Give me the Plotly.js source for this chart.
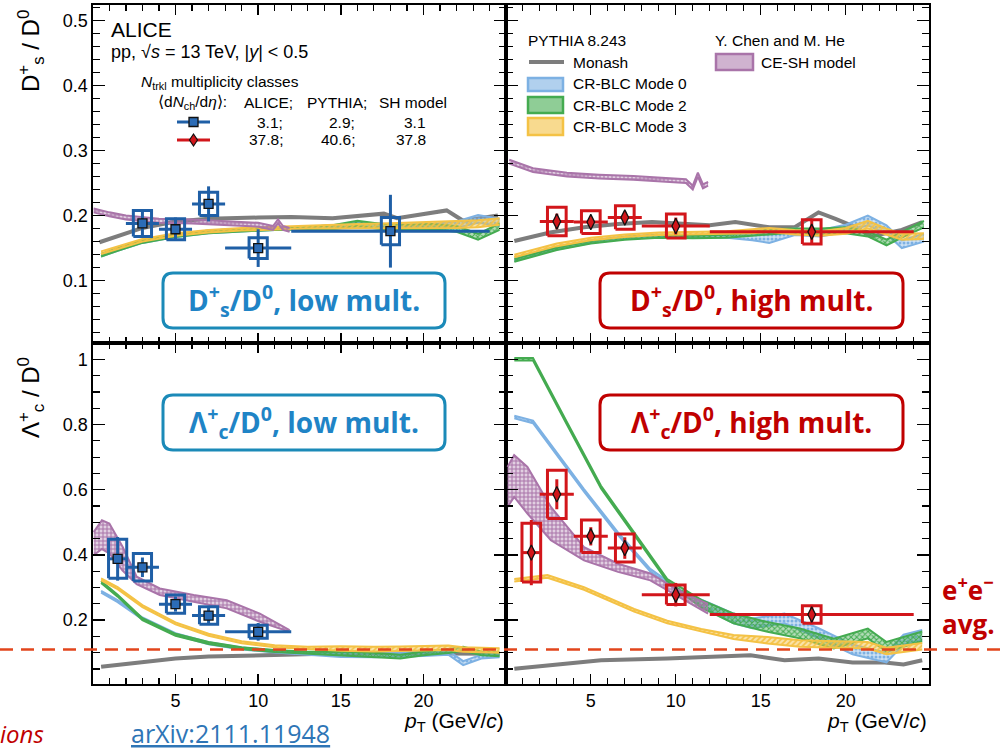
<!DOCTYPE html>
<html><head><meta charset="utf-8">
<script src="https://cdn.plot.ly/plotly-3.0.1.min.js"></script>
<style>html,body{margin:0;padding:0;background:#fff}#chart{width:1000px;height:752px}</style>
</head><body><div id="chart"></div>
<script>
// ---------------- DATA ----------------
// Ds/D0 low multiplicity (ALICE)
const dsLowX = [3, 5, 7, 10, 18];
const dsLowXerr = [1, 1, 1, 2, 6];
const dsLowY = [0.188, 0.179, 0.218, 0.150, 0.176];
const dsLowStat = [0.020, 0.018, 0.027, 0.029, 0.056];
const dsLowSys = [0.020, 0.016, 0.018, 0.016, 0.021];
// Ds/D0 high multiplicity
const dsHighX = [3, 5, 7, 10, 18];
const dsHighXerr = [1, 1, 1, 2, 6];
const dsHighY = [0.191, 0.190, 0.197, 0.184, 0.175];
const dsHighStat = [0.012, 0.008, 0.009, 0.013, 0.018];
const dsHighSys = [0.022, 0.0175, 0.018, 0.0185, 0.0185];
// Lc/D0 low multiplicity
const lcLowX = [1.5, 3, 5, 7, 10];
const lcLowXerr = [0.5, 1, 1, 1, 2];
const lcLowY = [0.388, 0.362, 0.249, 0.214, 0.164];
const lcLowStat = [0.067, 0.030, 0.023, 0.028, 0.027];
const lcLowSys = [0.060, 0.042, 0.028, 0.027, 0.020];
// Lc/D0 high multiplicity
const lcHighX = [1.5, 3, 5, 7, 10, 18];
const lcHighXerr = [0.5, 1, 1, 1, 2, 6];
const lcHighY = [0.407, 0.586, 0.457, 0.421, 0.278, 0.217];
const lcHighStat = [0.100, 0.046, 0.028, 0.033, 0.036, 0.030];
const lcHighSys = [0.090, 0.074, 0.050, 0.043, 0.030, 0.027];

// e+e- average Lc/D0
const eeAvg = 0.11;

// ---- Models, Ds/D0 low mult ----
const tlMonashX = [0.4,1.5,3,5,7,10,12,14.5,16.2,17.6,18.4,19.3,21.4,22.4,24.5];
const tlMonashY = [0.159,0.168,0.181,0.191,0.195,0.197,0.198,0.196,0.200,0.203,0.196,0.200,0.208,0.192,0.200];
const tlCrX = [0.5,1.5,3,5,7,9,11,13,14.5,16,17.5,19,20.5,22,23.3,24.6];
const tlMode0Lo = [0.137,0.146,0.158,0.167,0.173,0.176,0.178,0.179,0.179,0.181,0.179,0.178,0.178,0.181,0.189,0.184];
const tlMode0Hi = [0.141,0.150,0.162,0.171,0.177,0.180,0.182,0.183,0.185,0.189,0.187,0.186,0.187,0.191,0.201,0.195];
const tlMode2Lo = [0.137,0.146,0.158,0.167,0.173,0.176,0.178,0.179,0.179,0.184,0.179,0.178,0.179,0.175,0.163,0.178];
const tlMode2Hi = [0.141,0.150,0.162,0.171,0.177,0.180,0.182,0.183,0.185,0.192,0.187,0.186,0.187,0.184,0.172,0.188];
const tlMode3Lo = [0.141,0.149,0.160,0.169,0.174,0.177,0.179,0.180,0.180,0.180,0.180,0.180,0.181,0.181,0.182,0.186];
const tlMode3Hi = [0.145,0.153,0.164,0.173,0.178,0.181,0.183,0.184,0.186,0.187,0.188,0.189,0.190,0.191,0.193,0.196];
const tlShX = [0.05,1,2,4,6,8,10,10.9,11.2,11.5,11.9];
const tlShLo = [0.205,0.199,0.194,0.189,0.188,0.186,0.183,0.178,0.188,0.178,0.175];
const tlShHi = [0.211,0.205,0.200,0.195,0.194,0.192,0.189,0.184,0.194,0.184,0.181];

// ---- Models, Ds/D0 high mult ----
const trMonashX = [0.5,2.6,4.6,6.6,8.6,10.6,12,13.5,15.5,17,18.4,19.4,20.6,21.5,22.3,23.3,24.5];
const trMonashY = [0.161,0.174,0.182,0.187,0.190,0.187,0.185,0.190,0.182,0.182,0.205,0.195,0.182,0.168,0.172,0.178,0.190];
const trCrX = [0.5,1.5,3,5,7,9,11,13,14.5,15.5,17,18.5,20,21.3,22.4,23.3,24.6];
const trMode0Lo = [0.130,0.137,0.148,0.158,0.164,0.167,0.166,0.166,0.162,0.158,0.170,0.168,0.175,0.185,0.172,0.150,0.160];
const trMode0Hi = [0.134,0.141,0.152,0.162,0.168,0.171,0.170,0.171,0.172,0.175,0.180,0.178,0.186,0.200,0.185,0.162,0.172];
const trMode2Lo = [0.129,0.136,0.147,0.157,0.163,0.166,0.165,0.166,0.169,0.172,0.174,0.171,0.173,0.168,0.154,0.166,0.182];
const trMode2Hi = [0.133,0.140,0.151,0.161,0.167,0.170,0.169,0.171,0.176,0.179,0.180,0.180,0.182,0.176,0.163,0.175,0.192];
const trMode3Lo = [0.136,0.143,0.153,0.162,0.167,0.170,0.171,0.172,0.173,0.175,0.171,0.169,0.172,0.180,0.170,0.163,0.164];
const trMode3Hi = [0.140,0.147,0.157,0.166,0.171,0.174,0.175,0.176,0.179,0.181,0.178,0.176,0.181,0.192,0.180,0.172,0.173];
const trShX = [0.2,1.6,3.6,5.5,7.5,9.5,10.6,11.0,11.3,11.6,11.9];
const trShLo = [0.280,0.267,0.260,0.257,0.255,0.252,0.250,0.240,0.260,0.242,0.246];
const trShHi = [0.286,0.273,0.266,0.263,0.261,0.258,0.256,0.246,0.266,0.248,0.252];

// ---- Models, Lc/D0 low mult ----
const blMonashX = [0.5,2,3,5,7,10,14,18,22,24.6];
const blMonashY = [0.057,0.066,0.072,0.082,0.088,0.093,0.097,0.098,0.097,0.097];
const blCrX = [0.5,1.5,3,5,7,9,11,13,15,17,18.6,20,21.5,22.4,23.5,24.6];
const blMode0Lo = [0.284,0.255,0.202,0.154,0.126,0.110,0.101,0.095,0.087,0.086,0.088,0.090,0.094,0.062,0.082,0.086];
const blMode0Hi = [0.290,0.261,0.208,0.160,0.132,0.116,0.107,0.101,0.099,0.098,0.100,0.102,0.106,0.074,0.094,0.098];
const blMode2Lo = [0.314,0.272,0.200,0.152,0.127,0.111,0.102,0.097,0.092,0.088,0.082,0.092,0.099,0.106,0.092,0.089];
const blMode2Hi = [0.320,0.278,0.206,0.158,0.133,0.117,0.108,0.103,0.104,0.100,0.094,0.104,0.111,0.118,0.104,0.101];
const blMode3Lo = [0.322,0.295,0.240,0.187,0.152,0.129,0.117,0.112,0.106,0.104,0.105,0.106,0.108,0.103,0.101,0.100];
const blMode3Hi = [0.328,0.301,0.246,0.193,0.158,0.135,0.123,0.118,0.120,0.118,0.119,0.120,0.122,0.117,0.115,0.114];
const blShX = [0.05,0.55,1.0,1.8,2.65,4.05,6.1,8.1,10.1,11.9];
const blShLo = [0.399,0.418,0.405,0.352,0.310,0.277,0.256,0.236,0.195,0.164];
const blShHi = [0.470,0.506,0.496,0.425,0.333,0.297,0.277,0.261,0.220,0.169];

// ---- Models, Lc/D0 high mult ----
const brMonashX = [0.5,3.6,5.6,9.5,11.5,14.4,16.4,18.4,20.4,22.3,23.4,24.5];
const brMonashY = [0.051,0.067,0.077,0.082,0.087,0.092,0.077,0.082,0.070,0.070,0.064,0.077];
const brMode0X = [0.5,1.6,4.6,6.6,8.5,10.5,12,13.4,14.5,16.4,18.4,20.4,22.4,23.4,24.5];
const brMode0Lo = [0.819,0.804,0.594,0.461,0.349,0.276,0.228,0.190,0.175,0.190,0.145,0.095,0.070,0.125,0.140];
const brMode0Hi = [0.827,0.812,0.602,0.469,0.357,0.284,0.252,0.220,0.205,0.220,0.175,0.125,0.100,0.155,0.170];
const brMode2X = [0.5,1.6,3.6,5.6,7.55,9.5,11.5,13.4,15.4,17.3,19.3,21.3,22.4,24.5];
const brMode2Lo = [0.996,0.996,0.799,0.604,0.461,0.318,0.238,0.190,0.164,0.144,0.113,0.144,0.103,0.135];
const brMode2Hi = [1.004,1.004,0.807,0.612,0.469,0.326,0.262,0.220,0.194,0.174,0.143,0.174,0.133,0.165];
const brMode3X = [0.5,2.45,4.6,7.55,9.5,11.5,13.4,15.4,17.3,19.3,21.3,22.4,24.5];
const brMode3Lo = [0.318,0.330,0.293,0.226,0.190,0.165,0.142,0.128,0.118,0.115,0.113,0.095,0.110];
const brMode3Hi = [0.326,0.338,0.301,0.234,0.198,0.173,0.154,0.148,0.138,0.135,0.133,0.115,0.130];
const brShX = [0.1,0.49,1.27,2.65,4.6,6.6,8.5,10.5,11.9];
const brShLo = [0.547,0.578,0.527,0.445,0.383,0.348,0.322,0.261,0.220];
const brShHi = [0.670,0.706,0.670,0.547,0.424,0.373,0.343,0.281,0.250];

// tick labels
const xTickVals = [5, 10, 15, 20];

// ---------------- STYLE / LAYOUT ----------------
const W = 1000, H = 752, L = 93, R = 71, T = 5, B = 68;
const PW = W - L - R, PH = H - T - B;
const xSplit = (506 - L) / PW;
const ySplit = (684 - 343) / PH;
const yTopRange = [0.004, 0.524], yBotRange = [0.004, 1.05];

const C = {
  monash: '#7d7d7d', m0: '#7db1e3', m2: '#44ab50', m3: '#f4c245', sh: '#a974a9',
  blue: '#1f5fa6', blueFill: '#2c6cb6', red: '#d2161b',
  lblBlue: '#1f84c6', lblBlueBorder: '#1b8ab8', lblRed: '#c00000', dash: '#e2451c'
};
const CA = {m0: 'rgba(125,177,227,0.4)', m2: 'rgba(68,171,80,0.4)', m3: 'rgba(244,194,69,0.45)', sh: 'rgba(169,116,169,0.35)'};
const FONT = 'Liberation Sans, Arial, sans-serif';
const LBLFONT = 'Open Sans, Noto Sans, sans-serif';

const traces = [];
function band(xa, ya, xs, lo, hi, key, shape) {
  const color = C[key];
  traces.push({x: xs, y: lo, xaxis: xa, yaxis: ya, mode: 'lines', line: {color: color, width: 2}, hoverinfo: 'skip', showlegend: false});
  traces.push({x: xs, y: hi, xaxis: xa, yaxis: ya, mode: 'lines', line: {color: color, width: 2}, hoverinfo: 'skip', showlegend: false,
    fill: 'tonexty', fillcolor: CA[key],
    fillpattern: {shape: shape, fgcolor: color, bgcolor: CA[key], size: 4, solidity: 0.45}});
}
function line(xa, ya, xs, ys, color, w) {
  traces.push({x: xs, y: ys, xaxis: xa, yaxis: ya, mode: 'lines', line: {color: color, width: w}, hoverinfo: 'skip', showlegend: false});
}
function dataSet(xa, ya, xs, xe, ys, st, sy, color, fill, symbol, msize) {
  const bw = 0.55; // half width of systematic box (style)
  const bx = [], by = [];
  xs.forEach((x, i) => {
    bx.push(x - bw, x + bw, x + bw, x - bw, x - bw, null);
    by.push(ys[i] - sy[i], ys[i] - sy[i], ys[i] + sy[i], ys[i] + sy[i], ys[i] - sy[i], null);
  });
  traces.push({x: bx, y: by, xaxis: xa, yaxis: ya, mode: 'lines', line: {color: color, width: 3}, hoverinfo: 'skip', showlegend: false, connectgaps: false});
  traces.push({x: xs, y: ys, xaxis: xa, yaxis: ya, mode: 'markers', showlegend: false, hoverinfo: 'skip',
    marker: {symbol: symbol, size: msize, color: fill, line: {color: '#111', width: 1.3}},
    error_x: {type: 'data', array: xe, color: color, thickness: 3, width: 0},
    error_y: {type: 'data', array: st, color: color, thickness: 3, width: 0}});
}

// Top-left: Ds low
line('x', 'y', tlMonashX, tlMonashY, C.monash, 4);
band('x', 'y', tlCrX, tlMode0Lo, tlMode0Hi, 'm0', '.');
band('x', 'y', tlCrX, tlMode2Lo, tlMode2Hi, 'm2', 'x');
band('x', 'y', tlCrX, tlMode3Lo, tlMode3Hi, 'm3', '/');
band('x', 'y', tlShX, tlShLo, tlShHi, 'sh', '+');
dataSet('x', 'y', dsLowX, dsLowXerr, dsLowY, dsLowStat, dsLowSys, C.blue, C.blueFill, 'square', 9);
// Top-right: Ds high
line('x2', 'y2', trMonashX, trMonashY, C.monash, 4);
band('x2', 'y2', trCrX, trMode0Lo, trMode0Hi, 'm0', '.');
band('x2', 'y2', trCrX, trMode2Lo, trMode2Hi, 'm2', 'x');
band('x2', 'y2', trCrX, trMode3Lo, trMode3Hi, 'm3', '/');
band('x2', 'y2', trShX, trShLo, trShHi, 'sh', '+');
dataSet('x2', 'y2', dsHighX, dsHighXerr, dsHighY, dsHighStat, dsHighSys, C.red, C.red, 'diamond-tall', 11);
// Bottom-left: Lc low
line('x3', 'y3', blMonashX, blMonashY, C.monash, 4);
band('x3', 'y3', blCrX, blMode0Lo, blMode0Hi, 'm0', '.');
band('x3', 'y3', blCrX, blMode2Lo, blMode2Hi, 'm2', 'x');
band('x3', 'y3', blCrX, blMode3Lo, blMode3Hi, 'm3', '/');
band('x3', 'y3', blShX, blShLo, blShHi, 'sh', '+');
dataSet('x3', 'y3', lcLowX, lcLowXerr, lcLowY, lcLowStat, lcLowSys, C.blue, C.blueFill, 'square', 9);
// Bottom-right: Lc high
line('x4', 'y4', brMonashX, brMonashY, C.monash, 4);
band('x4', 'y4', brMode0X, brMode0Lo, brMode0Hi, 'm0', '.');
band('x4', 'y4', brMode2X, brMode2Lo, brMode2Hi, 'm2', 'x');
band('x4', 'y4', brMode3X, brMode3Lo, brMode3Hi, 'm3', '/');
band('x4', 'y4', brShX, brShLo, brShHi, 'sh', '+');
dataSet('x4', 'y4', lcHighX, lcHighXerr, lcHighY, lcHighStat, lcHighSys, C.red, C.red, 'diamond-tall', 11);

function axBase(extra) {
  return Object.assign({
    showline: true, linecolor: '#000', linewidth: 1.6, mirror: 'ticks', ticks: 'inside',
    tickcolor: '#000', tickwidth: 1.4, showgrid: false, zeroline: false,
    tickfont: {family: FONT, size: 18, color: '#000'}
  }, extra);
}
function xAx(domain, range, anchor, labels) {
  return axBase({domain: domain, range: range, anchor: anchor, tickmode: 'array', tickvals: xTickVals, ticklen: 10,
    showticklabels: labels, minor: {tickmode: 'linear', tick0: 0, dtick: 1, ticklen: 6, ticks: 'inside', tickcolor: '#000', tickwidth: 1.2}});
}
function yAx(domain, range, anchor, labels, dt, mdt) {
  return axBase({domain: domain, range: range, anchor: anchor, tickmode: 'linear', tick0: 0, dtick: dt, ticklen: 12,
    showticklabels: labels, minor: {tickmode: 'linear', tick0: 0, dtick: mdt, ticklen: 7, ticks: 'inside', tickcolor: '#000', tickwidth: 1.2}});
}

// pixel -> paper helpers (for decoration placement)
const pxX = p => (p - L) / PW;
const pxY = p => (H - B - p) / PH;
function rr(x0, y0, x1, y1, r) {
  const P = (x, y) => pxX(x).toFixed(5) + ',' + pxY(y).toFixed(5);
  return 'M' + P(x0 + r, y0) + ' L' + P(x1 - r, y0) + ' Q' + P(x1, y0) + ' ' + P(x1, y0 + r) +
    ' L' + P(x1, y1 - r) + ' Q' + P(x1, y1) + ' ' + P(x1 - r, y1) + ' L' + P(x0 + r, y1) +
    ' Q' + P(x0, y1) + ' ' + P(x0, y1 - r) + ' L' + P(x0, y0 + r) + ' Q' + P(x0, y0) + ' ' + P(x0 + r, y0) + ' Z';
}

const shapes = [];
// label boxes
shapes.push({type: 'path', xref: 'paper', yref: 'paper', path: rr(163, 273, 445, 328, 10), line: {color: C.lblBlueBorder, width: 3}, fillcolor: '#fff'});
shapes.push({type: 'path', xref: 'paper', yref: 'paper', path: rr(600, 273, 903, 328, 10), line: {color: C.lblRed, width: 3}, fillcolor: '#fff'});
shapes.push({type: 'path', xref: 'paper', yref: 'paper', path: rr(163, 395, 445, 450, 10), line: {color: C.lblBlueBorder, width: 3}, fillcolor: '#fff'});
shapes.push({type: 'path', xref: 'paper', yref: 'paper', path: rr(600, 395, 903, 450, 10), line: {color: C.lblRed, width: 3}, fillcolor: '#fff'});
// e+e- average dashed line (value on bottom y scale, drawn across the whole page)
const eePaperY = ySplit * (eeAvg - yBotRange[0]) / (yBotRange[1] - yBotRange[0]);
shapes.push({type: 'line', xref: 'paper', yref: 'paper', x0: pxX(0), x1: pxX(1000), y0: eePaperY, y1: eePaperY,
  line: {color: C.dash, width: 2.5, dash: '13px,8px'}});
// legend samples (top-left)
shapes.push({type: 'line', xref: 'paper', yref: 'paper', x0: pxX(177), x1: pxX(210), y0: pxY(122), y1: pxY(122), line: {color: C.blue, width: 3}});
shapes.push({type: 'rect', xref: 'paper', yref: 'paper', x0: pxX(189), x1: pxX(198), y0: pxY(126.5), y1: pxY(117.5), line: {color: '#111', width: 1.3}, fillcolor: C.blueFill});
shapes.push({type: 'line', xref: 'paper', yref: 'paper', x0: pxX(177), x1: pxX(210), y0: pxY(140), y1: pxY(140), line: {color: C.red, width: 3}});
shapes.push({type: 'path', xref: 'paper', yref: 'paper',
  path: 'M' + pxX(193.5) + ',' + pxY(134) + ' L' + pxX(197.5) + ',' + pxY(140) + ' L' + pxX(193.5) + ',' + pxY(146) + ' L' + pxX(189.5) + ',' + pxY(140) + ' Z',
  line: {color: '#111', width: 1.2}, fillcolor: C.red});
// legend samples (top-right)
shapes.push({type: 'line', xref: 'paper', yref: 'paper', x0: pxX(529), x1: pxX(564), y0: pxY(62), y1: pxY(62), line: {color: C.monash, width: 4}});
[['m0', 78, 91], ['m2', 97, 113], ['m3', 118, 135]].forEach(b => {
  shapes.push({type: 'rect', xref: 'paper', yref: 'paper', x0: pxX(528), x1: pxX(563), y0: pxY(b[2]), y1: pxY(b[1]), line: {color: C[b[0]], width: 2.5}, fillcolor: CA[b[0]].replace(/0\.\d+\)$/, '0.6)')});
});
shapes.push({type: 'rect', xref: 'paper', yref: 'paper', x0: pxX(716), x1: pxX(753), y0: pxY(70), y1: pxY(54), line: {color: C.sh, width: 2.5}, fillcolor: 'rgba(169,116,169,0.55)'});

const annotations = [];
function txt(text, x, y, opts) {
  annotations.push(Object.assign({text: text, xref: 'paper', yref: 'paper', x: pxX(x), y: pxY(y), showarrow: false,
    xanchor: 'left', yanchor: 'middle', borderpad: 0, font: {family: FONT, size: 15.5, color: '#000'}}, opts || {}));
}
// top-left legend
txt('ALICE', 110, 30, {font: {family: FONT, size: 21, color: '#000'}});
txt('pp, √<i>s</i> = 13 TeV, |<i>y</i>| &lt; 0.5', 110, 52, {font: {family: FONT, size: 18, color: '#000'}});
txt('<i>N</i><sub>trkl</sub> multiplicity classes', 140, 82);
txt('⟨d<i>N</i><sub>ch</sub>/d<i>η</i>⟩:', 157, 102);
txt('ALICE;', 243, 102);
txt('PYTHIA;', 306, 102);
txt('SH model', 378, 102);
txt('3.1;', 284, 122, {xanchor: 'right'});
txt('2.9;', 356, 122, {xanchor: 'right'});
txt('3.1', 427, 122, {xanchor: 'right'});
txt('37.8;', 284, 140, {xanchor: 'right'});
txt('40.6;', 356, 140, {xanchor: 'right'});
txt('37.8', 427, 140, {xanchor: 'right'});
// top-right legend
txt('PYTHIA 8.243', 527, 40);
txt('Monash', 572, 62);
txt('CR-BLC Mode 0', 572, 83);
txt('CR-BLC Mode 2', 572, 105);
txt('CR-BLC Mode 3', 572, 126);
txt('Y. Chen and M. He', 714, 40);
txt('CE-SH model', 760, 62);
// panel labels
const lblFontB = c => ({family: LBLFONT, size: 28, color: c, weight: 700});
txt('D<sup>+</sup><sub>s</sub>/D<sup>0</sup>, low mult.', 304, 300, {xanchor: 'center', font: lblFontB(C.lblBlue)});
txt('D<sup>+</sup><sub>s</sub>/D<sup>0</sup>, high mult.', 751.5, 300, {xanchor: 'center', font: lblFontB(C.lblRed)});
txt('Λ<sup>+</sup><sub>c</sub>/D<sup>0</sup>, low mult.', 304, 422, {xanchor: 'center', font: lblFontB(C.lblBlue)});
txt('Λ<sup>+</sup><sub>c</sub>/D<sup>0</sup>, high mult.', 751.5, 422, {xanchor: 'center', font: lblFontB(C.lblRed)});
txt('e<sup>+</sup>e<sup>−</sup><br>avg.', 941, 606, {align: 'left', font: {family: LBLFONT, size: 26, color: C.lblRed, weight: 700}});
// axis titles
txt('D<sup>+</sup><sub>s</sub> / D<sup>0</sup>', 31, 51, {xanchor: 'center', textangle: -90, font: {family: FONT, size: 24, color: '#000'}});
txt('Λ<sup>+</sup><sub>c</sub> / D<sup>0</sup>', 31, 398, {xanchor: 'center', textangle: -90, font: {family: FONT, size: 24, color: '#000'}});
txt('<i>p</i><sub>T</sub> (GeV/<i>c</i>)', 505, 708, {xanchor: 'right', yanchor: 'top', font: {family: FONT, size: 21, color: '#000'}});
txt('<i>p</i><sub>T</sub> (GeV/<i>c</i>)', 928, 708, {xanchor: 'right', yanchor: 'top', font: {family: FONT, size: 21, color: '#000'}});
// footer
txt('<i>ions</i>', 45, 751, {xanchor: 'right', yanchor: 'bottom', font: {family: LBLFONT, size: 24, color: C.lblRed}});
txt('arXiv:2111.11948', 130, 751, {yanchor: 'bottom', font: {family: LBLFONT, size: 25, color: '#2e75b6', lineposition: 'under'}});

const layout = {
  width: W, height: H, margin: {l: L, r: R, t: T, b: B, pad: 0},
  paper_bgcolor: '#fff', plot_bgcolor: '#fff', showlegend: false, hovermode: false,
  xaxis: xAx([0, xSplit], [0.01, 24.99], 'y', false),
  yaxis: yAx([ySplit, 1], yTopRange, 'x', true, 0.1, 0.02),
  xaxis2: xAx([xSplit, 1], [0.01, 24.9], 'y2', false),
  yaxis2: yAx([ySplit, 1], yTopRange, 'x2', false, 0.1, 0.02),
  xaxis3: xAx([0, xSplit], [0.01, 24.99], 'y3', true),
  yaxis3: yAx([0, ySplit], yBotRange, 'x3', true, 0.2, 0.05),
  xaxis4: xAx([xSplit, 1], [0.01, 24.9], 'y4', true),
  yaxis4: yAx([0, ySplit], yBotRange, 'x4', false, 0.2, 0.05),
  shapes: shapes, annotations: annotations
};
Plotly.newPlot('chart', traces, layout, {displayModeBar: false, staticPlot: true});
</script></body></html>
